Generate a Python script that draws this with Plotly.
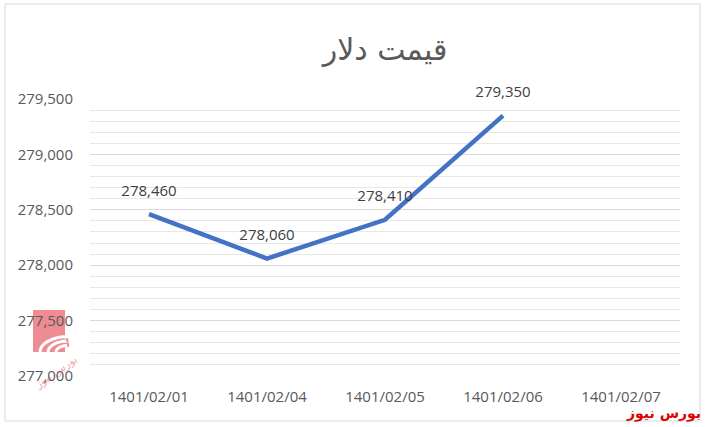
import math
import plotly.graph_objects as go

categories = ["1401/02/01", "1401/02/04", "1401/02/05", "1401/02/06", "1401/02/07"]
values = [278460, 278060, 278410, 279350, None]
labels = ["278,460", "278,060", "278,410", "279,350", ""]
title_text = "قیمت دلار"
source_text = "بورس نیوز"

W, H = 706, 427
L, R, T, B = 90, 26, 99, 51
pw, ph = W - L - R, H - T - B

def px(x):
    return (x - L) / pw

def py(y):
    return (H - B - y) / ph

fig = go.Figure()
fig.add_trace(go.Scatter(
    x=categories, y=values, mode="lines+markers+text",
    text=labels, textposition="top center",
    textfont=dict(family="Open Sans", size=15, color="#404040"),
    line=dict(color="#4472C4", width=4.5),
    marker=dict(size=22, color="rgba(0,0,0,0)"),
    cliponaxis=False, hoverinfo="skip", showlegend=False,
))

def arc(cx, cy, r, color, width):
    pts = []
    for i in range(0, 11):
        a = math.radians(95 + i * 9)
        pts.append((px(cx + r * math.cos(a)), py(cy - r * math.sin(a) * 0.55)))
    d = "M " + " L ".join(f"{x:.4f},{y:.4f}" for x, y in pts)
    return dict(type="path", xref="paper", yref="paper", path=d,
                line=dict(color=color, width=width), layer="below")

shapes = [
    dict(type="rect", xref="paper", yref="paper",
         x0=px(5), x1=px(700), y0=py(421), y1=py(4),
         line=dict(color="#D9D9D9", width=1), fillcolor="rgba(0,0,0,0)"),
    dict(type="rect", xref="paper", yref="paper",
         x0=px(33), x1=px(65), y0=py(352), y1=py(310),
         line=dict(width=0), fillcolor="#EE8C93", layer="below"),
]
shapes += [arc(70, 350, r, "#EE8C93", 4) for r in (10, 18)]
shapes += [arc(68, 352, r, "white", 3) for r in (28, 20, 12)]

fig.update_layout(
    width=W, height=H,
    margin=dict(l=L, r=R, t=T, b=B),
    paper_bgcolor="white", plot_bgcolor="white",
    title=dict(text=title_text, x=0.5, xref="paper", xanchor="center",
               y=1 - 49 / H, yanchor="middle",
               font=dict(family="DejaVu Sans", size=30, color="#595959")),
    xaxis=dict(type="category", showgrid=False, zeroline=False, showline=False,
               ticks="", tickfont=dict(family="Open Sans", size=15, color="#595959"),
               range=[-0.5, 4.5], fixedrange=True, ticklabelstandoff=10),
    yaxis=dict(range=[277000, 279500], dtick=500, tick0=277000, tickformat=",",
               showgrid=True, gridcolor="#D9D9D9", gridwidth=1,
               zeroline=False, showline=False, ticks="",
               tickfont=dict(family="Open Sans", size=15, color="#595959"),
               minor=dict(dtick=100, showgrid=True, gridcolor="#E8E8E8", gridwidth=1),
               ticklabelstandoff=16),
    shapes=shapes,
    annotations=[
        dict(text="<b>" + source_text + "</b>", xref="paper", yref="paper",
             x=px(703), y=py(413), xanchor="right", yanchor="middle",
             showarrow=False, font=dict(family="DejaVu Sans", size=14, color="#E00000")),
        dict(text=source_text, xref="paper", yref="paper",
             x=px(55), y=py(372), xanchor="center", yanchor="middle", textangle=-35,
             showarrow=False, font=dict(family="DejaVu Sans", size=11, color="rgba(230,90,100,0.55)")),
    ],
)

fig.write_html("out.html", config={"displayModeBar": False},
               post_script="document.body.style.margin='0';")
